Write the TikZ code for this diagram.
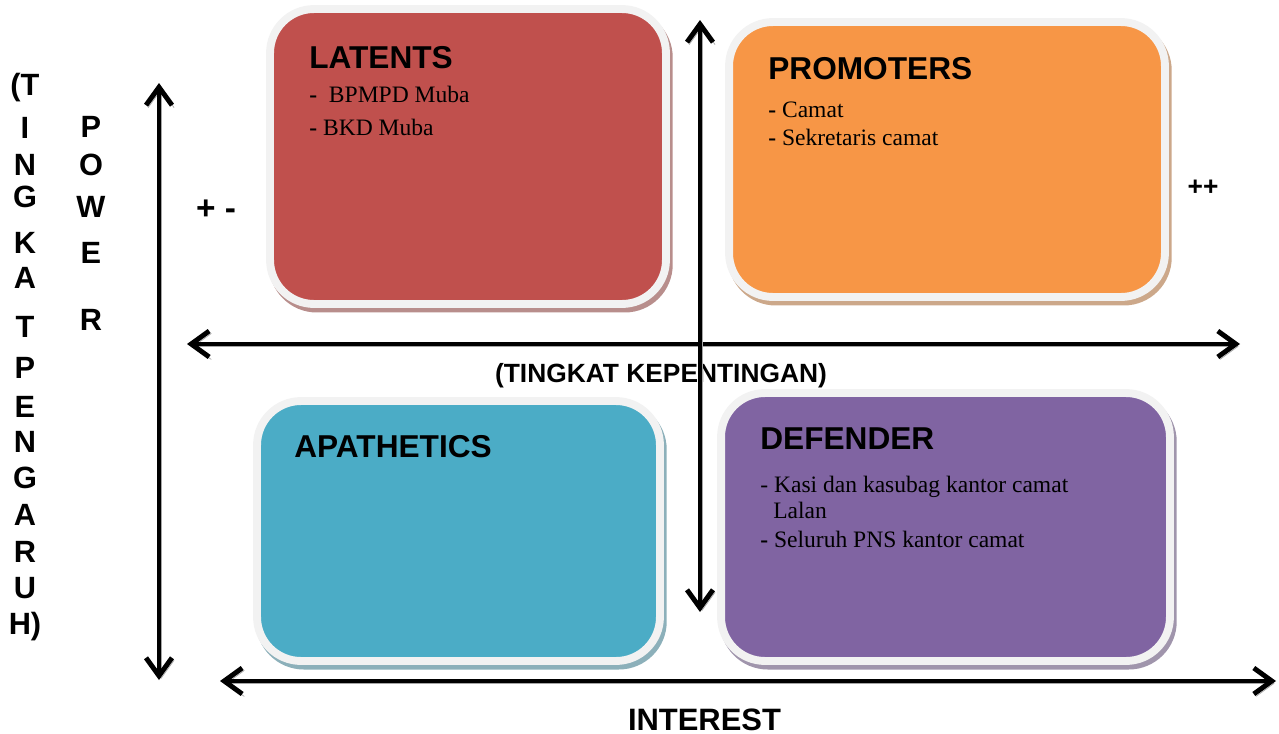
\documentclass[tikz,border=0pt]{standalone}
\usepackage{fontspec}
\setmainfont{Liberation Serif}
\setsansfont{Liberation Sans}
\usetikzlibrary{arrows.meta, positioning}
\definecolor{latent}{HTML}{C0504D}
\definecolor{promoter}{HTML}{F79646}
\definecolor{apathetic}{HTML}{4BACC6}
\definecolor{defender}{HTML}{8064A2}
\definecolor{rim}{HTML}{F2F2F2}

\begin{document}
\begin{tikzpicture}[x=0.02cm, y=-0.02cm,
    quad/.style={draw=rim, line width=4.5pt, fill=#1, rounded corners=0.88cm, inner sep=0pt,
        preaction={fill=#1!50!gray!75!white, draw=#1!50!gray!75!white, transform canvas={shift={(1.6pt,-2.6pt)}}}},
    head/.style={font=\sffamily\bfseries\fontsize{18}{20}\selectfont, anchor=base west, inner sep=0pt},
    item/.style={font=\fontsize{13.4}{15}\selectfont, anchor=base west, inner sep=0pt},
    axis/.style={font=\sffamily\bfseries\fontsize{15}{18}\selectfont, anchor=base, inner sep=0pt},
    letter/.style={font=\sffamily\bfseries\fontsize{17.5}{20}\selectfont, anchor=base, inner sep=0pt},
    arr/.style={{Straight Barb[length=0.36cm, width=0.52cm]}-{Straight Barb[length=0.36cm, width=0.52cm]}, line width=2.8pt,
        preaction={draw=black!35, transform canvas={shift={(1.2pt,-1.4pt)}}}},
]
\useasboundingbox (0,0) rectangle (1279,734);

% quadrants
\node[quad=latent, minimum width=7.92cm, minimum height=5.90cm] (lat) at (468,156.5) {};
\node[quad=promoter, minimum width=8.72cm, minimum height=5.50cm] (pro) at (947,159.5) {};
\node[quad=apathetic, minimum width=8.06cm, minimum height=5.20cm] (apa) at (458.5,531) {};
\node[quad=defender, minimum width=8.98cm, minimum height=5.36cm] (def) at (945.5,527) {};

% --- LATENTS ---
\node[head] (latT) at (309,68) {LATENTS};
\node[item] (lat1) at (309,102) {\textbf{-}\ \ BPMPD Muba};
\node[item] (lat2) at (309,135) {\textbf{-} BKD Muba};

% --- PROMOTERS ---
\node[head] (proT) at (768,79) {PROMOTERS};
\node[item] (pro1) at (768,117) {\textbf{-} Camat};
\node[item] (pro2) at (768,145) {\textbf{-} Sekretaris camat};

% --- APATHETICS ---
\node[head] (apaT) at (294,457) {APATHETICS};

% --- DEFENDER ---
\node[head] (defT) at (760,449) {DEFENDER};
\node[item] (def1) at (760,492) {- Kasi dan kasubag kantor camat};
\node[item] (def2) at (773,518) {Lalan};
\node[item] (def3) at (760,547) {\textbf{-} Seluruh PNS kantor camat};

% signs
\node[axis, font=\sffamily\bfseries\fontsize{19}{22}\selectfont] (pm) at (216,219) {+ -};
\node[axis] (pp) at (1203,195) {++};

% axis titles
\node[axis] (kep) at (661,382) {(TINGKAT KEPENTINGAN)};
\node[axis, font=\sffamily\bfseries\fontsize{17.6}{20}\selectfont] (intr) at (704.5,730) {INTEREST};
\foreach \ch/\yy [count=\i] in {{(T}/95, I/138, N/175, G/207, K/253, A/288, T/337, P/378, E/417, N/452, G/488, A/525, R/562, U/598, {H)}/634}
    \node[letter] (tk\i) at (25,\yy) {\ch};
\foreach \ch/\yy [count=\i] in {P/137, O/175, W/217, E/263, R/330}
    \node[letter] (pw\i) at (91,\yy) {\ch};

% arrows
\coordinate (midL) at (187,344);
\coordinate (midR) at (1240,344);
\coordinate (inL) at (220,681);
\coordinate (inR) at (1276,681);
\coordinate (pwTop) at (159,83);
\coordinate (pwBot) at (159,680);
\coordinate (cTop) at (700,20);
\coordinate (cBot) at (700,612);
\draw[arr] (midL) -- (midR);
\draw[arr] (inL) -- (inR);
\draw[arr] (pwTop) -- (pwBot);
\draw[arr] (cTop) -- (cBot);

\end{tikzpicture}
\end{document}
